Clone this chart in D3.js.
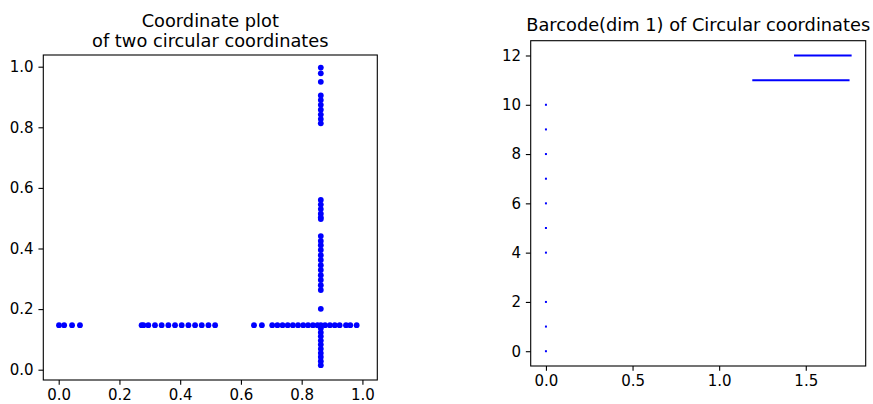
<!DOCTYPE html>
<html>
<head>
<meta charset="utf-8">
<script src="https://cdn.jsdelivr.net/npm/d3@7"></script>
<style>
  html, body { margin: 0; padding: 0; background: #fff; }
  svg { display: block; font-family: "DejaVu Sans", sans-serif; }
</style>
</head>
<body>
<svg id="chart" width="873" height="404"></svg>
<script>
// ---------- Data: coordinate plot ----------
const hLineY = 0.147;
const hLineXs = [
  0.001, 0.018, 0.044, 0.070,
  0.273, 0.279, 0.295, 0.317, 0.339, 0.361, 0.383, 0.405, 0.427, 0.449, 0.471, 0.493, 0.515,
  0.643, 0.669, 0.703, 0.720, 0.737, 0.754, 0.771, 0.788, 0.805, 0.821, 0.837, 0.852, 0.863,
  0.877, 0.893, 0.909, 0.925, 0.946, 0.960, 0.981
];
const vLineX = 0.863;
const vLineYs = [
  0.997, 0.978, 0.950, 0.905, 0.890, 0.874, 0.858, 0.842, 0.827, 0.813,
  0.560, 0.545, 0.530, 0.515, 0.503, 0.497,
  0.441, 0.425, 0.411, 0.395, 0.378, 0.362, 0.345, 0.329, 0.312, 0.296, 0.279, 0.263,
  0.201,
  0.137, 0.123, 0.110, 0.096, 0.083, 0.069, 0.055, 0.042, 0.028, 0.015
];
const coordXTicks = [0.0, 0.2, 0.4, 0.6, 0.8, 1.0];
const coordYTicks = [0.0, 0.2, 0.4, 0.6, 0.8, 1.0];
const coordXDomain = [-0.0507, 1.049];
const coordYDomain = [-0.034, 1.0386];

// ---------- Data: barcode ----------
const barIndex = [0, 1, 2, 4, 5, 6, 7, 8, 9, 10, 11, 12];
const barBirth = [0, 0, 0, 0, 0, 0, 0, 0, 0, 0, 1.197, 1.438];
const barDeath = [0, 0, 0, 0, 0, 0, 0, 0, 0, 0, 1.747, 1.759];
const barXTicks = [0.0, 0.5, 1.0, 1.5];
const barYTicks = [0, 2, 4, 6, 8, 10, 12];
const barXDomain = [-0.088, 1.846];
const barYDomain = [-0.6, 12.6];

const titleLeft = ["Coordinate plot", "of two circular coordinates"];
const titleRight = "Barcode(dim 1) of Circular coordinates";

// ---------- Layout ----------
const svg = d3.select("#chart");
svg.append("rect").attr("width", 873).attr("height", 404).attr("fill", "#fff");

const BLUE = "#0000ff";
const tickFont = 15, titleFont = 17.8, tickLen = 4.86, tickPad = 4.86;

const A = { left: 43.3, right: 377.3, top: 55, bottom: 380 };
const B = { left: 530.7, right: 865.7, top: 40.7, bottom: 366 };

function styleAxis(g) {
  g.select(".domain").remove();
  g.selectAll(".tick line").attr("stroke", "#000").attr("stroke-width", 1.1);
  g.selectAll(".tick text").attr("fill", "#000").attr("font-size", tickFont)
    .attr("font-family", "DejaVu Sans, sans-serif");
}

function frame(box) {
  svg.append("rect")
    .attr("x", box.left).attr("y", box.top)
    .attr("width", box.right - box.left).attr("height", box.bottom - box.top)
    .attr("fill", "none").attr("stroke", "#000").attr("stroke-width", 1.1);
}

// ---------- Left: coordinate plot ----------
const x1 = d3.scaleLinear().domain(coordXDomain).range([A.left, A.right]);
const y1 = d3.scaleLinear().domain(coordYDomain).range([A.bottom, A.top]);

const pts = hLineXs.map(x => [x, hLineY]).concat(vLineYs.map(y => [vLineX, y]));
svg.append("g").selectAll("circle").data(pts).join("circle")
  .attr("cx", d => x1(d[0])).attr("cy", d => y1(d[1]))
  .attr("r", 2.9).attr("fill", BLUE);

svg.append("g").attr("transform", `translate(0,${A.bottom})`)
  .call(d3.axisBottom(x1).tickValues(coordXTicks).tickFormat(d3.format(".1f"))
    .tickSize(tickLen).tickPadding(tickPad)).call(styleAxis);
svg.append("g").attr("transform", `translate(${A.left},0)`)
  .call(d3.axisLeft(y1).tickValues(coordYTicks).tickFormat(d3.format(".1f"))
    .tickSize(tickLen).tickPadding(tickPad)).call(styleAxis);
frame(A);

const tl = svg.append("text").attr("text-anchor", "middle")
  .attr("font-size", titleFont).attr("fill", "#000");
tl.selectAll("tspan").data(titleLeft).join("tspan")
  .attr("x", (A.left + A.right) / 2)
  .attr("y", (d, i) => 26.5 + i * 20.5)
  .text(d => d);

// ---------- Right: barcode ----------
const x2 = d3.scaleLinear().domain(barXDomain).range([B.left, B.right]);
const y2 = d3.scaleLinear().domain(barYDomain).range([B.bottom, B.top]);

const bars = barIndex.map((k, i) => ({ k, b: barBirth[i], d: barDeath[i] }));
svg.append("g").selectAll("line").data(bars).join("line")
  .attr("x1", d => x2(d.b)).attr("x2", d => x2(d.d))
  .attr("y1", d => y2(d.k)).attr("y2", d => y2(d.k))
  .attr("stroke", BLUE).attr("stroke-width", 2)
  .attr("stroke-linecap", "square");

svg.append("g").attr("transform", `translate(0,${B.bottom})`)
  .call(d3.axisBottom(x2).tickValues(barXTicks).tickFormat(d3.format(".1f"))
    .tickSize(tickLen).tickPadding(tickPad)).call(styleAxis);
svg.append("g").attr("transform", `translate(${B.left},0)`)
  .call(d3.axisLeft(y2).tickValues(barYTicks).tickFormat(d3.format("d"))
    .tickSize(tickLen).tickPadding(tickPad)).call(styleAxis);
frame(B);

svg.append("text").attr("text-anchor", "middle")
  .attr("x", (B.left + B.right) / 2).attr("y", 31)
  .attr("font-size", titleFont).attr("fill", "#000")
  .text(titleRight);
</script>
</body>
</html>
